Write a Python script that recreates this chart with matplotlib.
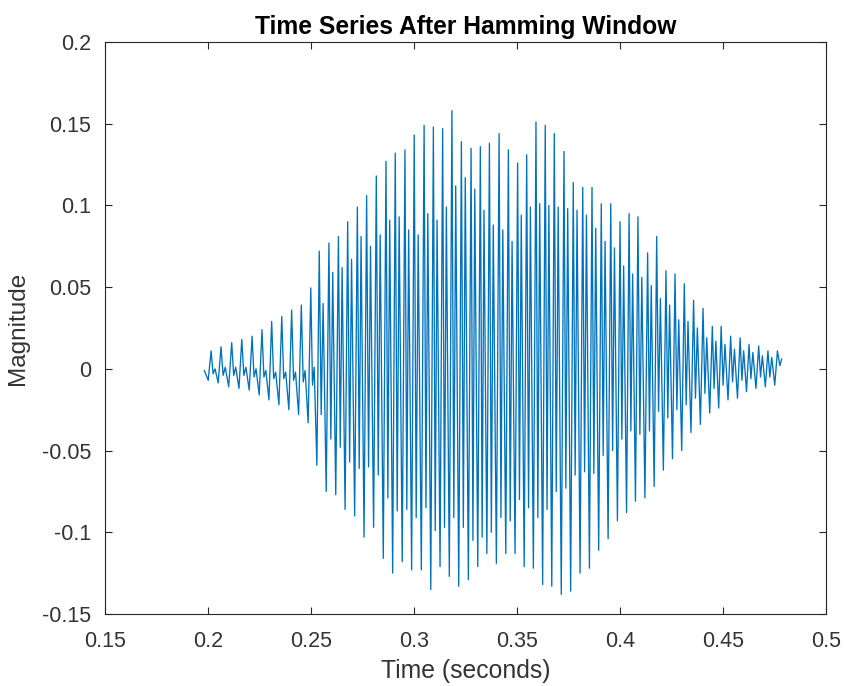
import numpy as np
import matplotlib
matplotlib.use("Agg")
import matplotlib.pyplot as plt

plt.rcParams['font.family'] = ['Liberation Sans', 'DejaVu Sans']

# Glottal-cycle landmarks of the windowed speech frame
lead_in_t = [0.1982, 0.2001]
lead_in_v = [-0.001, -0.007]

peak_t = [0.2015, 0.2063, 0.2115, 0.2164, 0.2214, 0.2262, 0.2309, 0.2358, 0.2406, 0.2453,
          0.2499, 0.2540, 0.2587, 0.2633, 0.2678, 0.2725, 0.2770, 0.2817, 0.2864, 0.2909,
          0.2956, 0.3001, 0.3049, 0.3094, 0.3139, 0.3184, 0.3230, 0.3277, 0.3322, 0.3366,
          0.3413, 0.3458, 0.3503, 0.3547, 0.3592, 0.3637, 0.3681, 0.3728, 0.3773, 0.3819,
          0.3864, 0.3909, 0.3955, 0.4000, 0.4044, 0.4087, 0.4134, 0.4178, 0.4223, 0.4267,
          0.4312, 0.4357, 0.4403, 0.4448, 0.4491, 0.4537, 0.4583, 0.4626, 0.4673, 0.4718,
          0.4764]
peak_v = [0.011, 0.0135, 0.016, 0.018, 0.020, 0.024, 0.029, 0.032, 0.036, 0.039,
          0.0495, 0.072, 0.077, 0.081, 0.090, 0.099, 0.106, 0.118, 0.127, 0.132,
          0.134, 0.143, 0.149, 0.148, 0.147, 0.158, 0.139, 0.135, 0.136, 0.138,
          0.144, 0.134, 0.126, 0.131, 0.151, 0.149, 0.144, 0.133, 0.114, 0.111,
          0.111, 0.101, 0.101, 0.090, 0.095, 0.093, 0.071, 0.081, 0.060, 0.058,
          0.052, 0.042, 0.037, 0.026, 0.026, 0.020, 0.019, 0.015, 0.014, 0.011,
          0.011]
sec_trough_v = [-0.003, -0.004, -0.004, -0.004, -0.005, -0.005, -0.006, -0.006, -0.007, -0.008,
                -0.010, -0.028, -0.043, -0.048, -0.057, -0.061, -0.060, -0.065, -0.079, -0.087,
                -0.086, -0.091, -0.085, -0.099, -0.097, -0.091, -0.097, -0.105, -0.103, -0.100,
                -0.091, -0.093, -0.080, -0.085, -0.091, -0.086, -0.075, -0.073, -0.065, -0.063,
                -0.064, -0.053, -0.050, -0.043, -0.038, -0.040, -0.038, -0.026, -0.030, -0.025,
                -0.022, -0.018, -0.015, -0.012, -0.010, -0.008, -0.007, -0.006, -0.005, -0.005]
sec_peak_v = [0.000, 0.001, 0.001, 0.001, 0.000, -0.001, -0.002, -0.002, -0.002, -0.001,
              0.001, 0.040, 0.059, 0.062, 0.067, 0.081, 0.075, 0.082, 0.091, 0.093,
              0.085, 0.082, 0.095, 0.091, 0.099, 0.112, 0.117, 0.110, 0.097, 0.088,
              0.085, 0.078, 0.094, 0.099, 0.101, 0.100, 0.099, 0.098, 0.097, 0.094,
              0.086, 0.078, 0.074, 0.063, 0.058, 0.056, 0.051, 0.043, 0.039, 0.030,
              0.029, 0.025, 0.019, 0.017, 0.015, 0.012, 0.011, 0.010, 0.008, 0.007]
trough_v = [-0.0086, -0.011, -0.012, -0.013, -0.016, -0.019, -0.022, -0.025, -0.028, -0.033,
            -0.059, -0.075, -0.077, -0.086, -0.090, -0.103, -0.097, -0.116, -0.125, -0.118,
            -0.123, -0.123, -0.135, -0.121, -0.127, -0.133, -0.129, -0.121, -0.113, -0.119,
            -0.113, -0.113, -0.121, -0.122, -0.132, -0.133, -0.138, -0.136, -0.125, -0.122,
            -0.111, -0.104, -0.093, -0.088, -0.081, -0.079, -0.072, -0.062, -0.055, -0.050,
            -0.039, -0.034, -0.027, -0.024, -0.019, -0.018, -0.014, -0.012, -0.011, -0.010]
tail_t = [0.4776, 0.4785]
tail_v = [0.002, 0.006]

# Phase of each landmark within a pitch period
phase = {"sec_trough": 0.2, "sec_peak": 0.4, "trough": 0.72}

t, y = list(lead_in_t), list(lead_in_v)
for i, (tp, vp) in enumerate(zip(peak_t, peak_v)):
    t.append(tp)
    y.append(vp)
    if i < len(trough_v):
        period = peak_t[i + 1] - tp
        t += [tp + phase["sec_trough"] * period,
              tp + phase["sec_peak"] * period,
              tp + phase["trough"] * period]
        y += [sec_trough_v[i], sec_peak_v[i], trough_v[i]]
t += tail_t
y += tail_v

fig = plt.figure(figsize=(8.46, 6.86), dpi=100)
ax = fig.add_axes([0.1241, 0.1050, 0.8523, 0.8338])
ax.plot(t, y, color='#0072BD', linewidth=0.95)

ax.set_xlim(0.15, 0.5)
ax.set_ylim(-0.15, 0.2)
ax.set_xticks([0.15, 0.2, 0.25, 0.3, 0.35, 0.4, 0.45, 0.5])
ax.set_xticklabels(['0.15', '0.2', '0.25', '0.3', '0.35', '0.4', '0.45', '0.5'])
ax.set_yticks([-0.15, -0.1, -0.05, 0, 0.05, 0.1, 0.15, 0.2])
ax.set_yticklabels(['-0.15', '-0.1', '-0.05', '0', '0.05', '0.1', '0.15', '0.2'])

axis_grey = '#262626'
label_grey = '#333333'
for s in ax.spines.values():
    s.set_color(axis_grey)
    s.set_linewidth(0.8)
ax.tick_params(direction='in', top=True, right=True, length=5, width=0.8,
               colors=axis_grey, labelcolor=label_grey, labelsize=15.5)
ax.tick_params(axis='x', pad=12.5)
ax.tick_params(axis='y', pad=10)

ax.set_xlabel('Time (seconds)', fontsize=17.8, color=label_grey, labelpad=5)
ax.set_ylabel('Magnitude', fontsize=17.5, color=label_grey, labelpad=9)
ax.set_title('Time Series After Hamming Window', fontsize=17.7, fontweight='bold',
             color='black', pad=6)

fig.savefig('out.png', dpi=100)
